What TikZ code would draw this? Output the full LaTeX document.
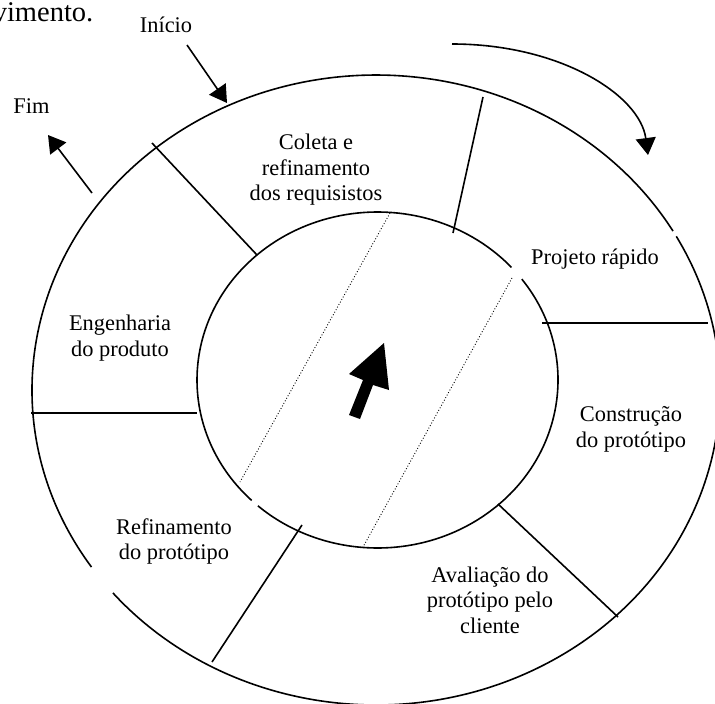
\documentclass[tikz,border=0pt]{standalone}
\usepackage{fontspec}
\setmainfont{Liberation Serif}
\usetikzlibrary{arrows.meta}

\begin{document}
\begin{tikzpicture}[x=1pt,y=-1pt,line width=1.6pt,
    >={Triangle[length=17pt,width=20pt]},
    txt/.style={font=\fontsize{22.4}{25.5}\selectfont,align=center,inner sep=0pt}]
\useasboundingbox (0,0) rectangle (715,704);

\draw ([shift={(-29.2:344 and 315)}]376,390) arc[start angle=-29.2,end angle=139.9,x radius=344,y radius=315];
\draw ([shift={(145.8:344 and 315)}]376,390) arc[start angle=145.8,end angle=329.7,x radius=344,y radius=315];

\draw ([shift={(-36.9:180.5 and 168)}]377.5,380) arc[start angle=-36.9,end angle=131.5,x radius=180.5,y radius=168];
\draw ([shift={(134.2:180.5 and 168)}]377.5,380) arc[start angle=134.2,end angle=317.9,x radius=180.5,y radius=168];

\foreach \xa/\ya/\xb/\yb in {152/143/257/255,483/97/453/233,542/323/708/323,
    498/504/618/617,302/525/212/662,31/413/197/413}
{
    \draw (\xa,\ya)--(\xb,\yb);
}

\draw [dotted,line width=0.9pt] (390,213)--(240,482);
\draw [dotted,line width=0.9pt] (512,278)--(363,547);

\fill (349,415)--(360,419)--(373,385)--(389,390)--(384,343)--(349,374)--(363,380)--cycle;

\node [txt,font=\fontsize{28.5}{30}\selectfont] (vimento) at (-8,21) [anchor=base west] {vimento.};
\node [txt] (inicio) at (166,32) [anchor=base] {Início};
\node [txt] (fim) at (31.5,113) [anchor=base] {Fim};
\node [txt] (coleta) at (316,170) {Coleta e\\refinamento\\dos requisistos};
\node [txt] (projeto) at (595,264) [anchor=base] {Projeto rápido};
\node [txt] (construcao) at (631,429.5) {Construção\\do protótipo};
\node [txt] (avaliacao) at (490,600) {Avaliação do\\protótipo pelo\\cliente};
\node [txt] (refinamento) at (174,541.5) {Refinamento\\do protótipo};
\node [txt] (engenharia) at (120,338) {Engenharia\\do produto};

\coordinate (inicio-a) at (187,45);
\coordinate (inicio-b) at (227,103);
\coordinate (fim-a) at (92,193);
\coordinate (fim-b) at (48,135);
\coordinate (giro-a) at (452,44);
\coordinate (giro-b) at (648,155);

\draw [->] (inicio-a)--(inicio-b);
\draw [->] (fim-a)--(fim-b);
\draw [->] (giro-a) .. controls (560,44) and (640,95) .. (giro-b);

\end{tikzpicture}
\end{document}
